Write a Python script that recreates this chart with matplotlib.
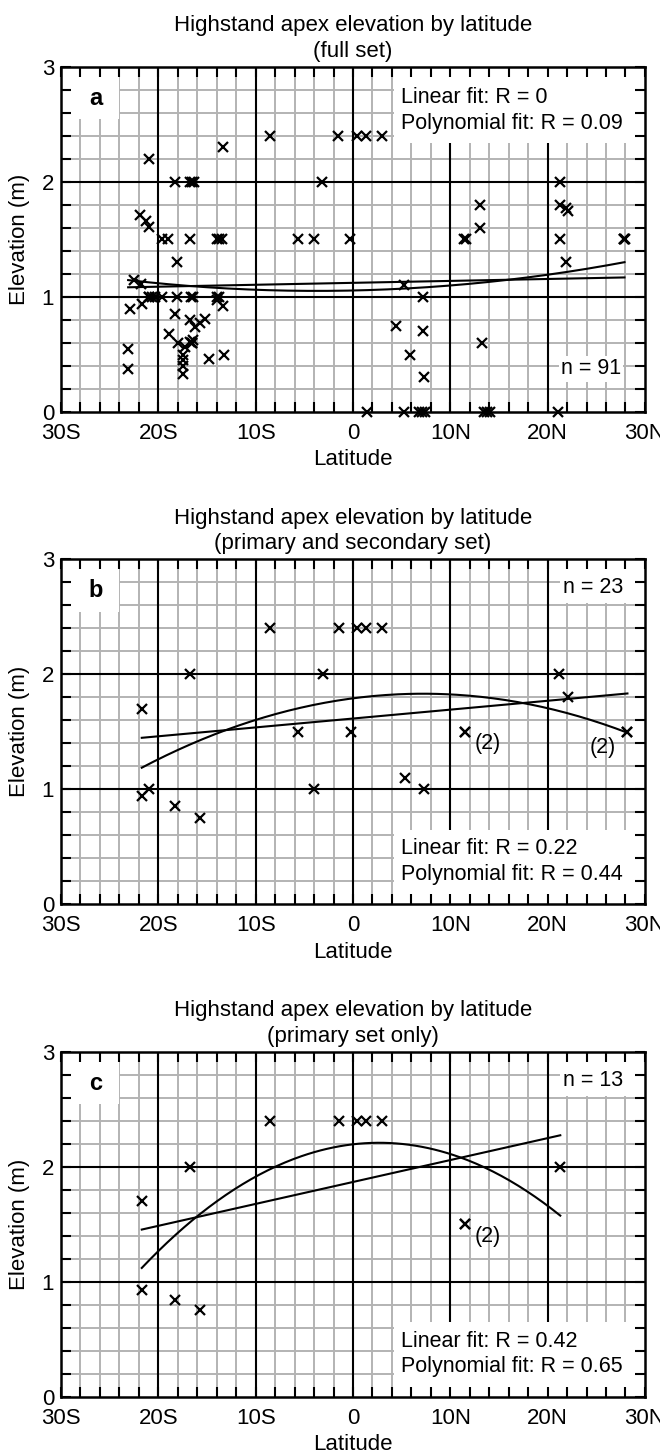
import numpy as np
import matplotlib
matplotlib.use("Agg")
import matplotlib.pyplot as plt
from matplotlib.patches import Rectangle
from matplotlib.ticker import MultipleLocator

plt.rcParams['font.family'] = ['Liberation Sans', 'DejaVu Sans']

# x axis ticks
lat_ticks = [-30, -20, -10, 0, 10, 20, 30]
lat_labels = ["30S", "20S", "10S", "0", "10N", "20N", "30N"]
elev_ticks = [0, 1, 2, 3]

# panel a: full set (lat, elevation in m)
lat_a = [-8.5, -13.4, -21.0, -18.3, -16.7, -16.3, -16.5,
         -21.9, -21.3, -21.0, -19.6, -19.0, -16.7, -14.0, -13.5, -13.8,
         -18.1, -22.5, -21.8,
         -21.0, -20.6, -20.3, -19.6, -18.1, -16.4, -16.6, -14.0, -13.8, -21.0,
         -21.7, -22.9, -14.0, -13.4, -18.3, -16.7, -15.2, -16.2, -15.7,
         -18.9, -18.0, -16.7, -16.4, -16.5, -16.5, -17.3, -17.5, -17.5, -17.5, -17.5,
         -14.8, -13.2, -23.1, -23.1,
         -1.5, 0.4, 1.3, 3.0, -3.2, 13.1, 13.1,
         -5.6, -4.0, -0.3, 11.4, 11.6, 5.2, 7.2, 4.4, 7.2, 13.3, 5.9, 7.3,
         1.4, 5.2, 6.8, 7.1, 7.4, 13.5, 13.8, 14.1, 21.1,
         21.3, 21.3, 21.9, 22.1, 21.3, 21.9, 27.8, 27.9, 27.8]
elev_a = [2.4, 2.3, 2.2, 2.0, 2.0, 2.0, 2.0,
          1.71, 1.66, 1.61, 1.5, 1.5, 1.5, 1.5, 1.5, 1.5,
          1.3, 1.15, 1.11,
          1.0, 1.0, 1.0, 1.0, 1.0, 1.0, 1.0, 1.0, 1.0, 1.0,
          0.94, 0.89, 0.97, 0.92, 0.85, 0.80, 0.81, 0.74, 0.77,
          0.68, 0.60, 0.61, 0.62, 0.60, 0.60, 0.56, 0.49, 0.45, 0.40, 0.33,
          0.46, 0.49, 0.55, 0.37,
          2.4, 2.4, 2.4, 2.4, 2.0, 1.8, 1.6,
          1.5, 1.5, 1.5, 1.5, 1.5, 1.1, 1.0, 0.75, 0.70, 0.60, 0.49, 0.30,
          0.0, 0.0, 0.0, 0.0, 0.0, 0.0, 0.0, 0.0, 0.0,
          2.0, 1.8, 1.77, 1.75, 1.5, 1.3, 1.5, 1.5, 1.5]

# panel b: primary and secondary set
lat_b = [-21.7, -16.7, -3.1, -8.5, -1.4, 0.4, 1.3, 3.0, -5.6, -0.2,
         11.5, 11.5, -21.7, -21.0, -18.3, -15.7, -4.0, 5.3, 7.3,
         21.2, 22.1, 28.2, 28.2]
elev_b = [1.7, 2.0, 2.0, 2.4, 2.4, 2.4, 2.4, 2.4, 1.5, 1.5,
          1.5, 1.5, 0.94, 1.0, 0.85, 0.75, 1.0, 1.1, 1.0,
          2.0, 1.8, 1.5, 1.5]

# panel c: primary set only
lat_c = [-21.7, -16.7, -8.5, -1.4, 0.4, 1.3, 3.0, 11.5, 11.5,
         -21.7, -18.3, -15.7, 21.3]
elev_c = [1.7, 2.0, 2.4, 2.4, 2.4, 2.4, 2.4, 1.5, 1.5,
          0.93, 0.84, 0.75, 2.0]

subtitles = ["(full set)", "(primary and secondary set)", "(primary set only)"]
letters = ["a", "b", "c"]
counts = ["n = 91", "n = 23", "n = 13"]
r_lin = ["0", "0.22", "0.42"]
r_poly = ["0.09", "0.44", "0.65"]

GRAY = "#b3b3b3"

fig = plt.figure(figsize=(6.6, 14.55), dpi=100)
bottoms = [0.717, 0.3786, 0.0401]
datasets = [(lat_a, elev_a), (lat_b, elev_b), (lat_c, elev_c)]


def white_box(ax, x0, y0, x1, y1):
    ax.add_patch(Rectangle((x0, y0), x1 - x0, y1 - y0, transform=ax.transAxes,
                           fc="white", ec="none", zorder=1))


for i in range(3):
    ax = fig.add_axes([0.0924, bottoms[i], 0.8848, 0.2371])
    lat, elev = np.array(datasets[i][0]), np.array(datasets[i][1])

    ax.set_xlim(-30, 30)
    ax.set_ylim(0, 3)

    # grid drawn by hand so the white boxes can sit above it but below ticks
    for v in np.arange(-28, 30, 2):
        if v % 10 != 0:
            ax.axvline(v, color=GRAY, lw=1.4, zorder=0.5)
    for v in np.arange(0.2, 3, 0.2):
        if abs(v - round(v)) > 0.01:
            ax.axhline(v, color=GRAY, lw=1.4, zorder=0.5)
    for v in [-20, -10, 0, 10, 20]:
        ax.axvline(v, color="black", lw=1.5, zorder=0.6)
    for v in [1, 2]:
        ax.axhline(v, color="black", lw=1.5, zorder=0.6)

    ax.set_xticks(lat_ticks)
    ax.set_xticklabels(lat_labels)
    ax.set_yticks(elev_ticks)
    ax.xaxis.set_minor_locator(MultipleLocator(2))
    ax.yaxis.set_minor_locator(MultipleLocator(0.2))
    ax.tick_params(which="both", direction="in", top=True, right=True,
                   length=7, width=1.5, labelsize=16)
    ax.tick_params(axis="x", pad=8)
    ax.tick_params(axis="y", pad=5)
    for s in ax.spines.values():
        s.set_linewidth(1.8)

    # fits
    xs = np.linspace(lat.min(), lat.max(), 200)
    ax.plot(xs, np.polyval(np.polyfit(lat, elev, 1), xs), color="black", lw=1.5, zorder=3)
    ax.plot(xs, np.polyval(np.polyfit(lat, elev, 2), xs), color="black", lw=1.5, zorder=3)

    ax.plot(lat, elev, "x", color="black", ms=7.5, mew=1.6, zorder=4, clip_on=False)

    ax.set_title("Highstand apex elevation by latitude\n" + subtitles[i],
                 fontsize=16, pad=7, linespacing=1.3)
    ax.set_xlabel("Latitude", fontsize=16, labelpad=4)
    ax.set_ylabel("Elevation (m)", fontsize=16, labelpad=8)

    # panel letter
    white_box(ax, 0, 0.848, 0.1, 1)
    ax.text(0.06, 0.908, letters[i], transform=ax.transAxes, fontsize=17,
            fontweight="bold", ha="center", va="center", zorder=5)

    fit1 = "Linear fit: R = " + r_lin[i]
    fit2 = "Polynomial fit: R = " + r_poly[i]
    if i == 0:
        white_box(ax, 0.57, 0.779, 1, 1)
        ax.text(0.582, 0.912, fit1, transform=ax.transAxes, fontsize=15.5,
                ha="left", va="center", zorder=5)
        ax.text(0.582, 0.837, fit2, transform=ax.transAxes, fontsize=15.5,
                ha="left", va="center", zorder=5)
        ax.text(0.959, 0.124, counts[i], transform=ax.transAxes, fontsize=15.5,
                ha="right", va="center", zorder=5,
                bbox=dict(fc="white", ec="none", pad=1.5))
    else:
        white_box(ax, 0.57, 0, 1, 0.215)
        ax.text(0.582, 0.16, fit1, transform=ax.transAxes, fontsize=15.5,
                ha="left", va="center", zorder=5)
        ax.text(0.582, 0.087, fit2, transform=ax.transAxes, fontsize=15.5,
                ha="left", va="center", zorder=5)
        white_box(ax, 0.854, 0.872, 1, 1)
        ax.text(0.962, 0.917, counts[i], transform=ax.transAxes, fontsize=15.5,
                ha="right", va="center", zorder=5)

# "(2)" marks for duplicate sites
fig.axes[1].text(12.5, 1.40, "(2)", fontsize=15.5, ha="left", va="center", zorder=5)
fig.axes[1].text(27.0, 1.36, "(2)", fontsize=15.5, ha="right", va="center", zorder=5)
fig.axes[2].text(12.5, 1.39, "(2)", fontsize=15.5, ha="left", va="center", zorder=5)

fig.savefig("out.png", dpi=100)
